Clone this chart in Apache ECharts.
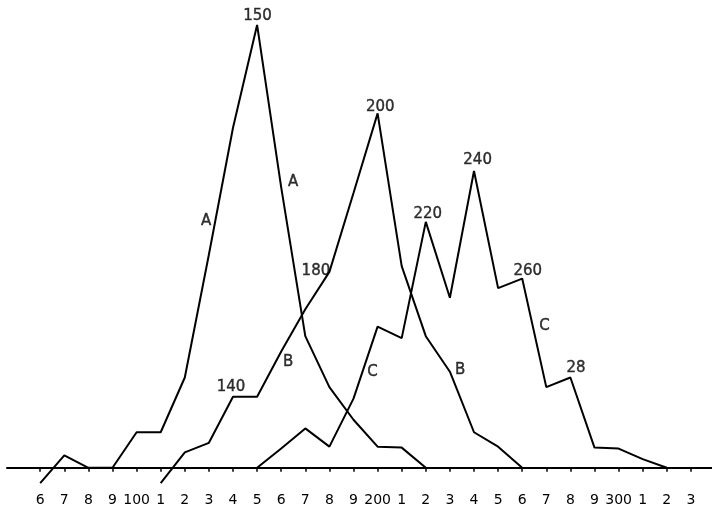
<!DOCTYPE html>
<html>
<head>
<meta charset="utf-8">
<script src="https://cdn.jsdelivr.net/npm/echarts@6/dist/echarts.min.js"></script>
<style>html,body{margin:0;padding:0;background:#fff;}#c{width:712px;height:507px;}</style>
</head>
<body>
<div id="c"></div>
<script>
// class values (x) and heights (arbitrary units)
const classesA = [60,70,80,90,100,110,120,130,140,150,160,170,180,190,200,210,220];
const seriesA  = [-16,13,0,0,37,37,94,222,354,461,292,137,84,50,22,21,0];
const classesB = [110,120,130,140,150,160,170,180,190,200,210,220,230,240,250,260];
const seriesB  = [-16,16,26,74,74,121,165,204,286,369,210,137,100,37,22,0];
const classesC = [150,160,170,180,190,200,210,220,230,240,250,260,270,280,290,300,310,320];
const seriesC  = [0,20,41,22,72,147,135,256,177,309,187,197,84,94,21,20,9,0];
const tickValues = [60,70,80,90,100,110,120,130,140,150,160,170,180,190,200,210,220,230,240,250,260,270,280,290,300,310,320,330];
// annotations: [x, y, text]
const notes = [
  [150.2,470,'150'],[201.1,376,'200'],[220.8,264,'220'],[241.5,320,'240'],
  [262.3,205,'260'],[282.3,104,'28'],[174.4,205,'180'],[139.2,84,'140'],
  [128.8,257,'A'],[164.9,297,'A'],[162.9,110,'B'],[234.3,102,'B'],
  [197.9,100,'C'],[269.2,148,'C']
];

function pairs(xs, ys){ return xs.map((x,i)=>[x, ys[i]]); }
const lineStyle = {color:'#000', width:2};
const FONT = 'DejaVu Sans';

const chart = echarts.init(document.getElementById('c'), null, {renderer:'canvas'});
chart.setOption({
  backgroundColor:'#ffffff',
  animation:false,
  grid:{left:7, right:0, top:0, bottom:0, containLabel:false},
  xAxis:{
    type:'value', min:46.22, max:338.76,
    axisLine:{show:true, onZero:true, lineStyle:{color:'#000', width:2}},
    axisTick:{show:true, length:4, customValues:tickValues, lineStyle:{color:'#000', width:1.5}},
    axisLabel:{
      show:true, customValues:tickValues, margin:6,
      color:'#000', fontSize:14, fontFamily:FONT,
      formatter:function(v){ return (v % 100 === 0) ? String(v) : String(Math.round(v/10) % 10); }
    },
    splitLine:{show:false}
  },
  yAxis:{
    type:'value', min:-20, max:487,
    show:false, splitLine:{show:false}
  },
  series:[
    {type:'line', name:'A', data:pairs(classesA, seriesA), showSymbol:false, symbol:'none', lineStyle:lineStyle, z:3},
    {type:'line', name:'B', data:pairs(classesB, seriesB), showSymbol:false, symbol:'none', lineStyle:lineStyle, z:3},
    {type:'line', name:'C', data:pairs(classesC, seriesC), showSymbol:false, symbol:'none', lineStyle:lineStyle, z:3},
    {type:'scatter', data:notes, symbolSize:1, itemStyle:{color:'rgba(0,0,0,0)'}, z:5,
     label:{show:true, position:'inside', formatter:function(p){return p.data[2];}, color:'#000', fontSize:15, fontFamily:FONT, textBorderColor:'#000', textBorderWidth:0.4}}
  ]
});
</script>
</body>
</html>
